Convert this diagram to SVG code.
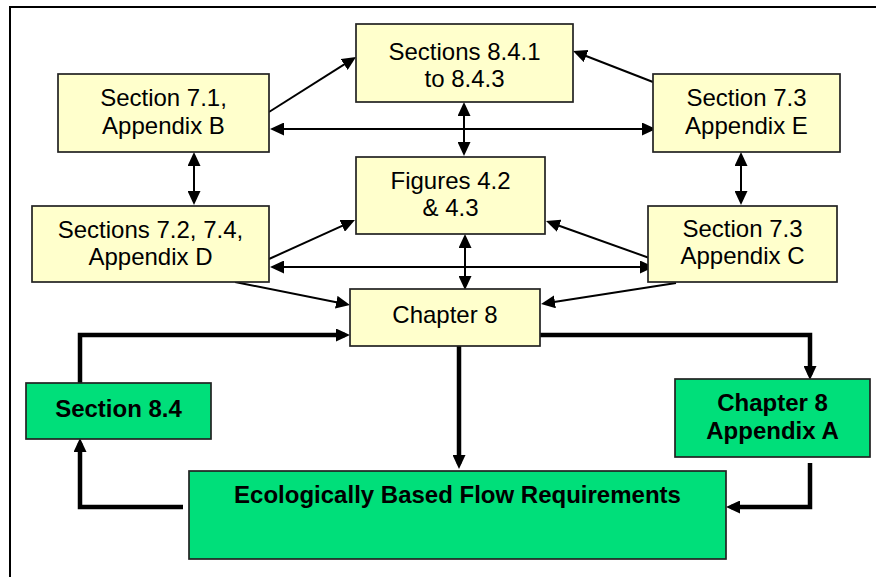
<svg xmlns="http://www.w3.org/2000/svg" width="876" height="577" viewBox="0 0 876 577">
  <style>
    .box { stroke: #222; stroke-width: 1.7; }
    .ref { fill: #FFFFCC; }
    .key { fill: #00DF7A; }
    .lbl { font-family: "Liberation Sans", Arial, Helvetica, sans-serif; font-size: 24px; fill: #000; text-anchor: middle; }
    .bold { font-weight: bold; }
    .thin { fill: none; stroke: #000; stroke-width: 2; }
    .thick { fill: none; stroke: #000; stroke-width: 4.5; stroke-linejoin: miter; }
  </style>
  <defs>
    <marker id="ah" viewBox="0 0 14 13" refX="9" refY="6.5" markerWidth="14" markerHeight="13" markerUnits="userSpaceOnUse" orient="auto-start-reverse">
      <path d="M0,0 L14,6.5 L0,13 Z" fill="#000"/>
    </marker>
  </defs>

  <rect width="876" height="577" fill="#fff"/>
  <!-- outer frame (open to the right and bottom) -->
  <path d="M10,577 V7 H876" fill="none" stroke="#000" stroke-width="2"/>

  <g id="connectors">
    <!-- thin cross references -->
    <path class="thin" d="M269,112 L351.8,59.7" marker-end="url(#ah)"/>
    <path class="thin" d="M653,82 L577.7,52.8" marker-end="url(#ah)"/>
    <path class="thin" d="M275,129 H651" marker-start="url(#ah)" marker-end="url(#ah)"/>
    <path class="thin" d="M464,107 V151" marker-start="url(#ah)" marker-end="url(#ah)"/>
    <path class="thin" d="M194,157 V200" marker-start="url(#ah)" marker-end="url(#ah)"/>
    <path class="thin" d="M741,157 V200" marker-start="url(#ah)" marker-end="url(#ah)"/>
    <path class="thin" d="M269,259 L350.4,222.1" marker-end="url(#ah)"/>
    <path class="thin" d="M655,260 L550.7,222.7" marker-end="url(#ah)"/>
    <path class="thin" d="M275,267 H649" marker-start="url(#ah)" marker-end="url(#ah)"/>
    <path class="thin" d="M465,239 V285" marker-start="url(#ah)" marker-end="url(#ah)"/>
    <path class="thin" d="M235,282 L345.1,304" marker-end="url(#ah)"/>
    <path class="thin" d="M676,283 L546,303.2" marker-end="url(#ah)"/>
    <!-- thick flow loop -->
    <path class="thick" d="M80,383 V335 H345" marker-end="url(#ah)"/>
    <path class="thick" d="M540,335 H810 V375" marker-end="url(#ah)"/>
    <path class="thick" d="M459,346 V464" marker-end="url(#ah)"/>
    <path class="thick" d="M810,463 V507 H731" marker-end="url(#ah)"/>
    <path class="thick" d="M183,507 H80 V443" marker-end="url(#ah)"/>
  </g>

  <g id="sec841">
    <rect class="box ref" x="356" y="24" width="217" height="78"/>
    <text class="lbl" x="464.5" y="59.5">Sections 8.4.1</text>
    <text class="lbl" x="464.5" y="87">to 8.4.3</text>
  </g>
  <g id="sec71">
    <rect class="box ref" x="58" y="74" width="211" height="78"/>
    <text class="lbl" x="163.5" y="106">Section 7.1,</text>
    <text class="lbl" x="163.5" y="134">Appendix B</text>
  </g>
  <g id="sec73e">
    <rect class="box ref" x="653" y="74" width="187" height="78"/>
    <text class="lbl" x="746.5" y="106">Section 7.3</text>
    <text class="lbl" x="746.5" y="134">Appendix E</text>
  </g>
  <g id="figures">
    <rect class="box ref" x="356" y="157" width="189" height="77"/>
    <text class="lbl" x="450.5" y="188.5">Figures 4.2</text>
    <text class="lbl" x="450.5" y="216">&amp; 4.3</text>
  </g>
  <g id="sec72">
    <rect class="box ref" x="32" y="206" width="237" height="76"/>
    <text class="lbl" x="150.5" y="237.5">Sections 7.2, 7.4,</text>
    <text class="lbl" x="150.5" y="265">Appendix D</text>
  </g>
  <g id="sec73c">
    <rect class="box ref" x="648" y="206" width="189" height="76"/>
    <text class="lbl" x="742.5" y="237">Section 7.3</text>
    <text class="lbl" x="742.5" y="264">Appendix C</text>
  </g>
  <g id="chapter8">
    <rect class="box ref" x="350" y="289" width="190" height="57"/>
    <text class="lbl" x="445" y="323">Chapter 8</text>
  </g>
  <g id="sec84">
    <rect class="box key" x="26" y="383" width="185" height="56"/>
    <text class="lbl bold" x="118.5" y="417">Section 8.4</text>
  </g>
  <g id="ch8appA">
    <rect class="box key" x="675" y="379" width="195" height="78"/>
    <text class="lbl bold" x="772.5" y="411">Chapter 8</text>
    <text class="lbl bold" x="772.5" y="439">Appendix A</text>
  </g>
  <g id="flowreq">
    <rect class="box key" x="189" y="471" width="537" height="88"/>
    <text class="lbl bold" x="457.5" y="503">Ecologically Based Flow Requirements</text>
  </g>
</svg>
